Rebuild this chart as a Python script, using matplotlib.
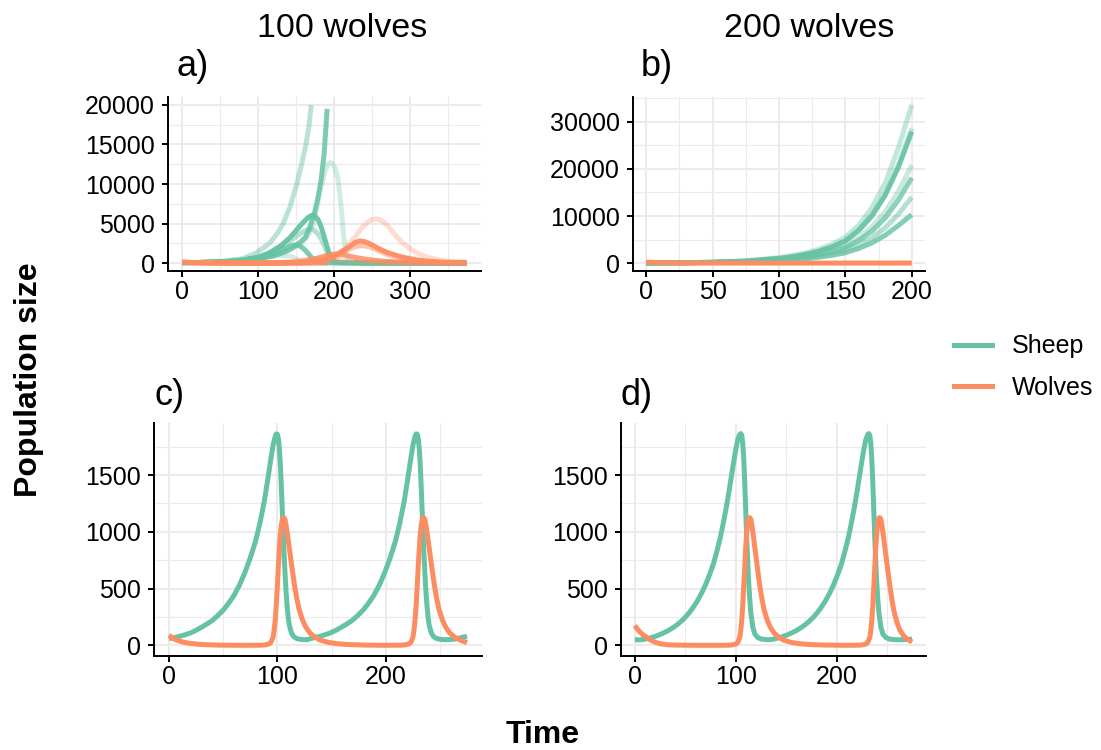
import matplotlib
matplotlib.use("Agg")
import matplotlib.pyplot as plt
from matplotlib.lines import Line2D
from matplotlib.ticker import MultipleLocator

plt.rcParams['font.family'] = ['Liberation Sans', 'DejaVu Sans']

SHEEP = '#66C2A5'
WOLF = '#FC8D62'

# ---------------- Panel a: 100 wolves, several stochastic runs ----------------
t_a1 = [0, 20, 40, 60, 80, 97, 115, 125, 133, 142, 151, 157, 163, 167, 170]
sheep_a1 = [50, 70, 130, 280, 580, 1250, 2500, 3700, 5000, 7100, 10000, 12400, 15000, 17300, 20000]
t_a1w = [0, 10, 20, 40, 60, 80, 100, 130, 170]
wolves_a1 = [100, 70, 50, 25, 12, 6, 4, 3, 3]

t_a2 = [0, 20, 40, 60, 80, 100, 120, 135, 145, 155, 162, 168, 174, 179, 183, 187, 191]
sheep_a2 = [50, 70, 110, 190, 320, 550, 900, 1400, 1900, 2600, 3200, 4500, 6200, 8300, 10500, 13800, 19500]
t_a2w = [0, 20, 40, 60, 80, 120, 191]
wolves_a2 = [100, 50, 25, 12, 7, 5, 8]

t_a3s = [0, 20, 40, 60, 80, 100, 120, 140, 155, 165, 172, 177, 182, 188, 192, 195, 198, 201, 205, 208,
         210, 212, 214, 216, 219, 223, 235, 260, 300, 375]
sheep_a3 = [50, 70, 110, 190, 320, 550, 950, 1600, 2400, 3300, 4800, 6800, 9300, 11500, 12500, 12700, 12600,
            12100, 10800, 8500, 6500, 4100, 2400, 1200, 350, 100, 30, 10, 4, 2]
t_a3w = [0, 20, 40, 70, 100, 130, 150, 170, 185, 200, 208, 216, 222, 229, 234, 239, 244, 250, 256, 261,
         266, 271, 277, 284, 292, 300, 308, 316, 325, 340, 355, 375]
wolves_a3 = [100, 50, 25, 10, 6, 8, 20, 60, 170, 500, 1000, 1950, 2700, 3440, 4100, 4700, 5150, 5500, 5600,
             5450, 5150, 4700, 4000, 3200, 2400, 1850, 1350, 1000, 700, 400, 200, 90]

t_a4s = [0, 20, 40, 60, 80, 100, 115, 130, 142, 150, 157, 163, 167, 171, 175, 179, 183, 186, 189, 192,
         195, 198, 202, 210, 240, 300, 375]
sheep_a4 = [50, 70, 110, 200, 380, 750, 1300, 2200, 3230, 4100, 4900, 5500, 5850, 6050, 5950, 5500, 4600,
            3700, 2700, 1700, 900, 400, 150, 50, 15, 5, 2]
t_a4w = [0, 20, 40, 70, 100, 130, 155, 175, 190, 200, 208, 216, 222, 228, 234, 240, 246, 253, 260, 270,
         282, 295, 310, 326, 345, 375]
wolves_a4 = [100, 50, 25, 10, 6, 10, 40, 150, 450, 850, 1350, 1800, 2200, 2600, 2800, 2720, 2500, 2150,
             1780, 1350, 980, 650, 400, 230, 110, 40]

t_a5s = [0, 20, 40, 60, 80, 100, 115, 130, 142, 152, 160, 165, 169, 174, 179, 184, 188, 192, 195, 199,
         205, 220, 260, 375]
sheep_a5 = [50, 70, 110, 200, 370, 700, 1200, 1950, 2800, 3500, 4000, 4220, 4300, 4150, 3700, 2900, 2000,
            1200, 650, 250, 80, 25, 8, 2]
t_a5w = [0, 20, 40, 70, 100, 130, 155, 175, 190, 200, 210, 220, 228, 236, 244, 252, 260, 270, 282, 295,
         310, 330, 350, 375]
wolves_a5 = [100, 50, 25, 10, 7, 12, 45, 170, 500, 850, 1300, 1750, 2050, 2200, 2120, 1850, 1500, 1100,
             750, 480, 280, 140, 70, 30]

t_a6s = [0, 20, 40, 60, 80, 100, 110, 120, 130, 138, 144, 148, 152, 157, 162, 166, 170, 174, 178, 184,
         195, 230, 375]
sheep_a6 = [50, 75, 130, 230, 400, 700, 900, 1200, 1600, 1950, 2200, 2300, 2260, 2050, 1650, 1200, 750,
            400, 200, 80, 30, 10, 2]
t_a6w = [0, 20, 40, 70, 100, 125, 145, 160, 172, 182, 190, 196, 201, 206, 212, 220, 230, 240, 252, 265,
         280, 300, 330, 375]
wolves_a6 = [100, 55, 30, 18, 15, 30, 90, 230, 450, 720, 950, 1080, 1150, 1130, 1050, 880, 680, 520, 370,
             240, 150, 80, 35, 12]

t_a7s = [0, 20, 40, 60, 80, 100, 112, 122, 130, 136, 142, 148, 153, 158, 164, 175, 210, 375]
sheep_a7 = [50, 75, 130, 230, 380, 600, 780, 900, 960, 960, 880, 650, 400, 200, 80, 25, 8, 2]
t_a7w = [0, 20, 40, 70, 100, 120, 135, 148, 160, 170, 178, 186, 195, 205, 218, 235, 255, 280, 320, 375]
wolves_a7 = [100, 55, 30, 18, 18, 40, 110, 250, 430, 560, 620, 600, 520, 400, 270, 150, 75, 35, 12, 4]

alpha_a = [0.45, 0.85, 0.3, 0.95, 0.5, 0.85, 0.3]

# ---------------- Panel b: 200 wolves, several stochastic runs ----------------
t_b = [0, 25, 50, 75, 100, 110, 120, 130, 140, 150, 160, 170, 180, 190, 200]
sheep_b1 = [30, 75, 190, 470, 1150, 1600, 2150, 2950, 4000, 5500, 8000, 11800, 17000, 24500, 33600]
sheep_b2 = [30, 70, 170, 420, 1000, 1380, 1880, 2550, 3500, 4800, 7100, 10300, 14800, 21000, 28600]
sheep_b3 = [30, 70, 170, 420, 980, 1350, 1830, 2500, 3430, 4700, 6900, 10000, 14400, 20400, 27900]
sheep_b4 = [30, 65, 150, 350, 800, 1100, 1480, 2000, 2720, 3700, 5400, 7700, 10900, 15300, 20800]
sheep_b5 = [30, 65, 150, 340, 760, 1030, 1380, 1850, 2500, 3300, 4800, 6800, 9600, 13400, 18100]
sheep_b6 = [30, 60, 130, 290, 640, 860, 1150, 1520, 2020, 2700, 3850, 5400, 7500, 10400, 14000]
sheep_b7 = [30, 55, 120, 250, 540, 720, 940, 1240, 1650, 2200, 3100, 4300, 5900, 8000, 10300]
alpha_b = [0.4, 0.35, 0.9, 0.35, 0.75, 0.5, 0.8]
t_bw = [0, 10, 20, 30, 50, 100, 150, 200]
wolves_b = [200, 90, 40, 15, 3, 0, 0, 0]

# ---------------- Panel c: 100 wolves, deterministic ----------------
t_c_sheep = [0, 5, 10, 15, 20, 25, 30, 35, 40, 45, 50, 55, 60, 65, 70, 75, 80, 84, 88, 91, 94, 96, 98, 99,
             100, 101, 102, 103, 104, 105, 106, 107, 108, 109, 110, 111, 113, 115, 118, 122, 128,
             129, 134, 139, 144, 149, 154, 159, 164, 169, 174, 179, 184, 189, 194, 199, 204, 209, 213,
             217, 220, 223, 225, 227, 228, 229, 230, 231, 232, 233, 234, 235, 236, 237, 238, 239, 240,
             242, 244, 247, 251, 257, 263, 268, 272, 275]
sheep_c = [60, 68, 80, 94, 110, 133, 160, 188, 220, 262, 310, 370, 440, 530, 640, 770, 920, 1080, 1270, 1450,
           1640, 1760, 1840, 1862, 1860, 1820, 1720, 1550, 1320, 1080, 850, 650, 480, 350, 250, 180, 110,
           78, 60, 52, 50,
           55, 68, 80, 94, 110, 133, 160, 188, 220, 262, 310, 370, 440, 530, 640, 770, 920, 1080,
           1270, 1450, 1640, 1760, 1840, 1862, 1860, 1820, 1720, 1550, 1320, 1080, 850, 650, 480, 350,
           250, 180, 110, 78, 60, 52, 50, 55, 65, 74, 80]
t_c_wolves = [0, 3, 6, 10, 15, 20, 25, 30, 40, 50, 70, 85, 89, 92, 94, 96, 97, 98, 99, 100, 101, 102, 103,
              104, 105, 106, 107, 108, 109, 110, 111, 112, 114, 116, 118, 120, 123, 126, 130, 135, 140,
              147, 155, 165, 180, 200, 214, 218, 221, 223, 225, 226, 227, 228, 229, 230, 231, 232, 233,
              234, 235, 236, 237, 238, 239, 240, 241, 243, 245, 247, 249, 252, 255, 259, 264, 269, 275]
wolves_c = [90, 68, 52, 37, 25, 17, 12, 8, 4, 2, 1, 2, 5, 12, 25, 70, 130, 220, 350, 520, 700, 870, 1000,
            1080, 1120, 1125, 1110, 1060, 1000, 930, 860, 790, 650, 520, 410, 320, 230, 165, 110, 70, 45,
            27, 15, 8, 3, 1, 2, 5, 12, 25, 70, 130, 220, 350, 520, 700, 870, 1000, 1080,
            1120, 1125, 1110, 1060, 1000, 930, 860, 790, 650, 520, 410, 320, 230, 165, 110, 70, 45, 25]

# ---------------- Panel d: 200 wolves, deterministic ----------------
t_d_sheep = [0, 4, 8, 12, 16, 20, 25, 29, 33, 38, 42, 46, 50, 54, 58, 62, 66, 70, 74, 78, 82, 85, 88, 91,
             94, 97, 100, 102, 104, 105, 106, 107, 108, 109, 110, 111, 112, 113, 114, 115, 117, 119, 122,
             126, 132, 135, 139, 143, 147, 152, 156, 160, 165, 169, 173, 177, 181, 185, 189, 193, 197,
             201, 205, 209, 212, 215, 218, 221, 224, 227, 229, 231, 232, 233, 234, 235, 236, 237, 238,
             239, 240, 241, 242, 244, 246, 249, 253, 259, 265, 270, 275]
sheep_d = [50, 49, 52, 59, 68, 79, 96, 112, 130, 157, 183, 213, 248, 289, 337, 392, 457, 532, 620, 720, 850,
           960, 1090, 1230, 1390, 1560, 1720, 1810, 1858, 1865, 1850, 1780, 1640, 1430, 1180, 930, 720,
           540, 400, 290, 160, 100, 68, 55, 50,
           52, 58, 68, 79, 96, 112, 130, 157, 183, 213, 248, 289, 337, 392, 457, 532, 620, 720, 850,
           960, 1090, 1230, 1390, 1560, 1720, 1810, 1858, 1865, 1850, 1780, 1640, 1430, 1180, 930, 720,
           540, 400, 290, 160, 100, 68, 55, 50, 50, 52, 55]
t_d_wolves = [0, 2, 4, 6, 8, 10, 13, 16, 19, 23, 27, 32, 40, 60, 85, 93, 97, 100, 102, 104, 105, 106, 107,
              108, 109, 110, 111, 112, 113, 114, 115, 116, 117, 118, 119, 120, 122, 124, 126, 128, 131,
              134, 138, 143, 148, 155, 163, 173, 188, 210, 222, 226, 229, 231, 233, 234, 235, 236, 237,
              238, 239, 240, 241, 242, 243, 244, 245, 246, 247, 248, 249, 251, 253, 255, 257, 260, 263,
              267, 271, 275]
wolves_d = [175, 150, 128, 110, 95, 83, 62, 45, 32, 20, 12, 6, 3, 1, 1, 2, 5, 12, 25, 70, 130, 220, 350,
            520, 700, 870, 1000, 1080, 1120, 1125, 1110, 1060, 1000, 930, 860, 790, 650, 520, 410, 320,
            230, 165, 110, 70, 45, 27, 15, 8, 3, 1, 2, 5, 12, 25, 70, 130, 220, 350, 520,
            700, 870, 1000, 1080, 1120, 1125, 1110, 1060, 1000, 930, 860, 790, 650, 520, 400, 300, 200,
            130, 80, 50, 30]

col_titles = ["100 wolves", "200 wolves"]
panel_tags = ["a)", "b)", "c)", "d)"]
legend_labels = ["Sheep", "Wolves"]

LW = 3.6

fig = plt.figure(figsize=(11.01, 7.5), dpi=100)
W, H = 1101, 750


def px_axes(l, t, r, b):
    return fig.add_axes([l / W, 1 - b / H, (r - l) / W, (b - t) / H])


ax_a = px_axes(168, 97, 481, 271)
ax_b = px_axes(633, 97, 925, 271)
ax_c = px_axes(154, 423, 482, 656)
ax_d = px_axes(621, 423, 926, 656)


def style(ax, xmax, ymax, xmaj, xmin, ymaj, ymin):
    ax.set_xlim(-0.05 * xmax, 1.05 * xmax)
    ax.set_ylim(-0.05 * ymax, 1.05 * ymax)
    ax.xaxis.set_major_locator(MultipleLocator(xmaj))
    ax.xaxis.set_minor_locator(MultipleLocator(xmin))
    ax.yaxis.set_major_locator(MultipleLocator(ymaj))
    ax.yaxis.set_minor_locator(MultipleLocator(ymin))
    ax.grid(which='major', color='#EBEBEB', lw=1.5)
    ax.grid(which='minor', color='#EBEBEB', lw=0.8)
    ax.set_axisbelow(True)
    for s in ['top', 'right']:
        ax.spines[s].set_visible(False)
    for s in ['left', 'bottom']:
        ax.spines[s].set_linewidth(1.4)
        ax.spines[s].set_color('black')
    ax.tick_params(which='major', length=4.3, width=1.4, color='black', labelsize=18,
                   labelcolor='black')
    ax.tick_params(axis='y', which='major', pad=5)
    ax.tick_params(axis='x', which='major', pad=2.5)
    ax.tick_params(which='minor', length=0)
    ax.set_facecolor('white')


# Panel a
runs_a = [
    (t_a1, sheep_a1, t_a1w, wolves_a1),
    (t_a2, sheep_a2, t_a2w, wolves_a2),
    (t_a3s, sheep_a3, t_a3w, wolves_a3),
    (t_a4s, sheep_a4, t_a4w, wolves_a4),
    (t_a5s, sheep_a5, t_a5w, wolves_a5),
    (t_a6s, sheep_a6, t_a6w, wolves_a6),
    (t_a7s, sheep_a7, t_a7w, wolves_a7),
]
for (ts, s, tw, w), al in zip(runs_a, alpha_a):
    ax_a.plot(ts, s, color=SHEEP, lw=LW, alpha=al, solid_capstyle='butt', solid_joinstyle='round')
for (ts, s, tw, w), al in zip(runs_a, alpha_a):
    ax_a.plot(tw, w, color=WOLF, lw=LW, alpha=al, solid_capstyle='butt', solid_joinstyle='round')
style(ax_a, 375, 20000, 100, 50, 5000, 2500)

# Panel b
for s, al in zip([sheep_b1, sheep_b2, sheep_b3, sheep_b4, sheep_b5, sheep_b6, sheep_b7], alpha_b):
    ax_b.plot(t_b, s, color=SHEEP, lw=LW, alpha=al, solid_capstyle='butt', solid_joinstyle='round')
ax_b.plot(t_bw, wolves_b, color=WOLF, lw=LW, solid_capstyle='butt')
style(ax_b, 200, 33600, 50, 25, 10000, 5000)

# Panel c
ax_c.plot(t_c_sheep, sheep_c, color=SHEEP, lw=LW, solid_capstyle='butt', solid_joinstyle='round')
ax_c.plot(t_c_wolves, wolves_c, color=WOLF, lw=LW, solid_capstyle='butt', solid_joinstyle='round')
style(ax_c, 275, 1865, 100, 50, 500, 250)

# Panel d
ax_d.plot(t_d_sheep, sheep_d, color=SHEEP, lw=LW, solid_capstyle='butt', solid_joinstyle='round')
ax_d.plot(t_d_wolves, wolves_d, color=WOLF, lw=LW, solid_capstyle='butt', solid_joinstyle='round')
style(ax_d, 275, 1865, 100, 50, 500, 250)

# Titles and tags
fig.text(342 / W, 1 - 37 / H, col_titles[0], fontsize=24.5, ha='center', va='baseline')
fig.text(809 / W, 1 - 37 / H, col_titles[1], fontsize=24.5, ha='center', va='baseline')
fig.text(177 / W, 1 - 76 / H, panel_tags[0], fontsize=26, ha='left', va='baseline')
fig.text(641 / W, 1 - 76 / H, panel_tags[1], fontsize=26, ha='left', va='baseline')
fig.text(154 / W, 1 - 405 / H, panel_tags[2], fontsize=26, ha='left', va='baseline')
fig.text(621 / W, 1 - 405 / H, panel_tags[3], fontsize=26, ha='left', va='baseline')

fig.text(29 / W, 1 - 380 / H, "Population size", fontsize=23, fontweight='bold',
         rotation=90, ha='center', va='center')
fig.text(543 / W, 1 - 743 / H, "Time", fontsize=23, fontweight='bold', ha='center', va='baseline')

handles = [Line2D([], [], color=SHEEP, lw=LW), Line2D([], [], color=WOLF, lw=LW)]
fig.legend(handles, legend_labels, loc='center left', bbox_to_anchor=(954 / W, 1 - 367 / H),
           frameon=False, fontsize=18, handlelength=1.52, handletextpad=0.8,
           labelspacing=0.7, borderpad=0, borderaxespad=0)

fig.savefig("out.png", dpi=100, facecolor='white')
